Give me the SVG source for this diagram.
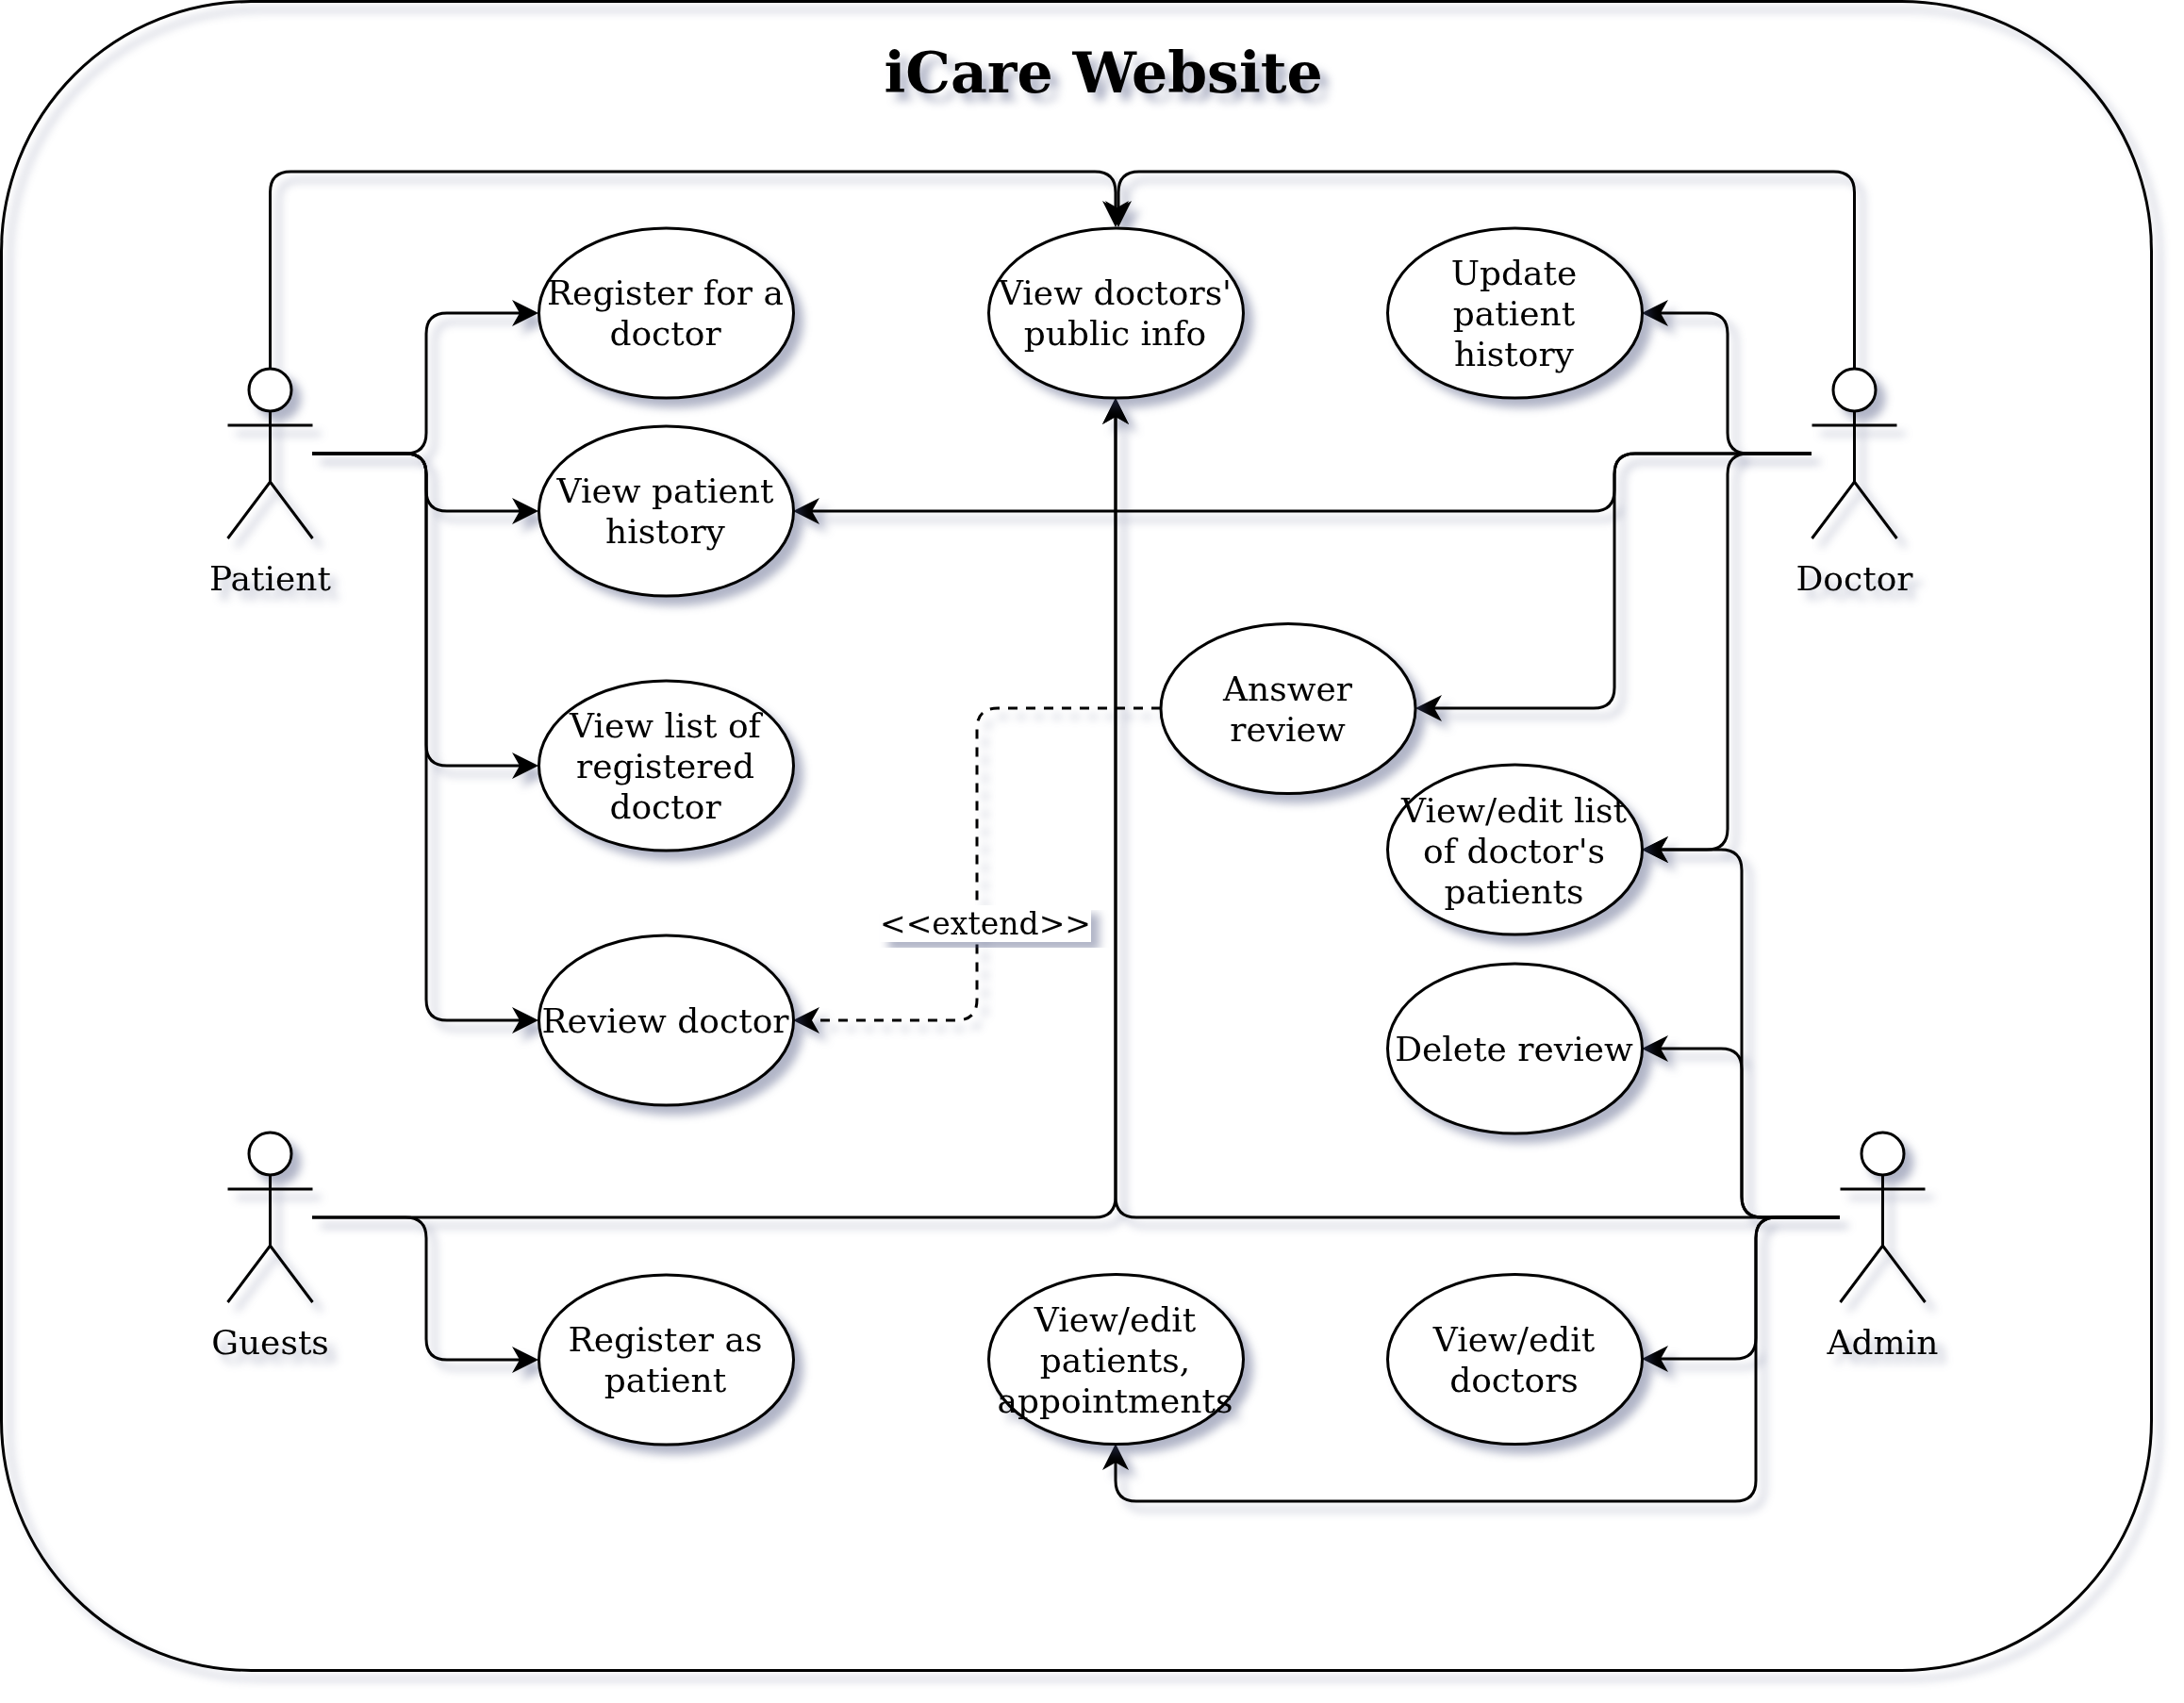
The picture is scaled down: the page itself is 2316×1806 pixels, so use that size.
<svg xmlns="http://www.w3.org/2000/svg" width="2316" height="1806" viewBox="0 0 2316 1806">
<style>
text{font-family:"DejaVu Serif","Liberation Serif",serif;font-size:36px;fill:#000;text-anchor:middle}
.title{font-size:60px;font-weight:bold}
.lab{font-size:33px}
.sh{filter:url(#ds)}
ellipse,circle.h{fill:#fff;stroke:#000;stroke-width:3}
rect.b{fill:none;stroke:#000;stroke-width:3}
.a{fill:none;stroke:#000;stroke-width:3;stroke-linecap:butt}
.c{fill:none;stroke:#000;stroke-width:3;marker-end:url(#arr)}
.d{stroke-dasharray:10 9}
</style>
<defs>
<filter id="ds" x="-10%" y="-10%" width="125%" height="125%" color-interpolation-filters="sRGB">
<feGaussianBlur in="SourceAlpha" stdDeviation="5" result="b"/>
<feOffset in="b" dx="9" dy="9" result="o"/>
<feFlood flood-color="#3D4574" flood-opacity="0.4"/>
<feComposite in2="o" operator="in" result="s"/>
<feBlend in="SourceGraphic" in2="s"/>
</filter>
<marker id="arr" markerUnits="userSpaceOnUse" markerWidth="30" markerHeight="30" viewBox="0 0 30 30" refX="16" refY="15" orient="auto">
<path d="M1 1L29 15L1 29L9 15Z" fill="#000"/>
</marker>
<g id="actor-shape">
<circle class="h" cx="45" cy="22.5" r="22.5"/>
<path class="a" d="M45 45V120M0 60H90M0 180L45 120L90 180"/>
</g>
</defs>
<rect width="2316" height="1806" fill="#fff"/>
<g id="system" class="sh"><rect class="b" x="1.5" y="1.5" width="2280" height="1770" rx="265" ry="265"/></g>
<g id="title" class="sh"><text class="title" x="1170" y="98">iCare Website</text></g>
<g id="connectors" class="sh">
<path class="c" d="M331 481H430Q452 481 452 459V354Q452 332 474 332H558"/>
<path class="c" d="M331 481H430Q452 481 452 503V520Q452 542 474 542H558"/>
<path class="c" d="M331 481H430Q452 481 452 503V790Q452 812 474 812H558"/>
<path class="c" d="M331 481H430Q452 481 452 503V1060Q452 1082 474 1082H558"/>
<path class="c" d="M286.500 391V204Q286.500 182 308.500 182H1161Q1183 182 1183 204V228"/>
<path class="c" d="M1966.500 391V204Q1966.500 182 1944.500 182H1208Q1186 182 1186 204V228"/>
<path class="c" d="M1921 481H1854Q1832 481 1832 459V354Q1832 332 1810 332H1754"/>
<path class="c" d="M1921 481H1854Q1832 481 1832 503V879Q1832 901 1810 901H1754"/>
<path class="c" d="M1921 481H1734Q1712 481 1712 503V520Q1712 542 1690 542H854"/>
<path class="c" d="M1921 481H1734Q1712 481 1712 503V729Q1712 751 1690 751H1514"/>
<path class="c d" d="M1231 751H1058Q1036 751 1036 773V1060Q1036 1082 1014 1082H854"/>
<path class="c" d="M331 1291H430Q452 1291 452 1313V1420Q452 1442 474 1442H558"/>
<path class="c" d="M331 1291H1161Q1183 1291 1183 1269V435"/>
<path class="c" d="M1951 1291H1205Q1183 1291 1183 1269V435"/>
<path class="c" d="M1951 1291H1869Q1847 1291 1847 1269V923Q1847 901 1825 901H1754"/>
<path class="c" d="M1951 1291H1869Q1847 1291 1847 1269V1134Q1847 1112 1825 1112H1754"/>
<path class="c" d="M1951 1291H1884Q1862 1291 1862 1313V1419Q1862 1441 1840 1441H1754"/>
<path class="c" d="M1951 1291H1884Q1862 1291 1862 1313V1570Q1862 1592 1840 1592H1205Q1183 1592 1183 1570V1544"/>
</g>
<g id="extend-label" class="sh"><rect x="933" y="960" width="224" height="39" fill="#fff"/><text class="lab" x="1045" y="991">&lt;&lt;extend&gt;&gt;</text></g>
<g id="patient" class="sh"><use href="#actor-shape" x="241.500" y="391"/><text x="286.500" y="626">Patient</text></g>
<g id="doctor" class="sh"><use href="#actor-shape" x="1921.500" y="391"/><text x="1966.500" y="626">Doctor</text></g>
<g id="guests" class="sh"><use href="#actor-shape" x="241.500" y="1201"/><text x="286.500" y="1436">Guests</text></g>
<g id="admin" class="sh"><use href="#actor-shape" x="1951.500" y="1201"/><text x="1996.500" y="1436">Admin</text></g>
<g id="register-doctor" class="sh"><ellipse cx="706.500" cy="332" rx="135" ry="90"/><text x="705.500" y="323">Register for a</text><text x="705.500" y="366">doctor</text></g>
<g id="view-history" class="sh"><ellipse cx="706.500" cy="542" rx="135" ry="90"/><text x="705.500" y="533">View patient</text><text x="705.500" y="576">history</text></g>
<g id="view-registered" class="sh"><ellipse cx="706.500" cy="812" rx="135" ry="90"/><text x="705.500" y="782">View list of</text><text x="705.500" y="825">registered</text><text x="705.500" y="868">doctor</text></g>
<g id="review-doctor" class="sh"><ellipse cx="706.500" cy="1082" rx="135" ry="90"/><text x="705.500" y="1095">Review doctor</text></g>
<g id="register-patient" class="sh"><ellipse cx="706.500" cy="1442" rx="135" ry="90"/><text x="705.500" y="1433">Register as</text><text x="705.500" y="1476">patient</text></g>
<g id="public-info" class="sh"><ellipse cx="1183.500" cy="332" rx="135" ry="90"/><text x="1182.500" y="323">View doctors'</text><text x="1182.500" y="366">public info</text></g>
<g id="update-history" class="sh"><ellipse cx="1606.500" cy="332" rx="135" ry="90"/><text x="1605.500" y="302">Update</text><text x="1605.500" y="345">patient</text><text x="1605.500" y="388">history</text></g>
<g id="answer-review" class="sh"><ellipse cx="1366" cy="751.500" rx="135" ry="90"/><text x="1365.500" y="743">Answer</text><text x="1365.500" y="786">review</text></g>
<g id="edit-list" class="sh"><ellipse cx="1606.500" cy="901" rx="135" ry="90"/><text x="1605.500" y="871.500">View/edit list</text><text x="1605.500" y="914.500">of doctor's</text><text x="1605.500" y="957.500">patients</text></g>
<g id="delete-review" class="sh"><ellipse cx="1606.500" cy="1112" rx="135" ry="90"/><text x="1605.500" y="1125">Delete review</text></g>
<g id="edit-patients" class="sh"><ellipse cx="1183.500" cy="1441.500" rx="135" ry="90"/><text x="1182.500" y="1411.500">View/edit</text><text x="1182.500" y="1454.500">patients,</text><text x="1182.500" y="1497.500">appointments</text></g>
<g id="edit-doctors" class="sh"><ellipse cx="1606.500" cy="1441.500" rx="135" ry="90"/><text x="1605.500" y="1433">View/edit</text><text x="1605.500" y="1476">doctors</text></g>
</svg>
